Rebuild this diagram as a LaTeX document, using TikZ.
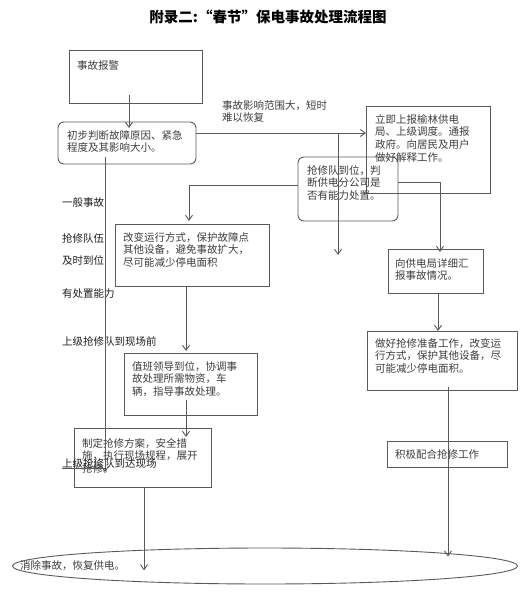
\documentclass[tikz,border=0pt]{standalone}
\usepackage{fontspec}
\newfontfamily\cjk{Noto Sans CJK SC}
\usetikzlibrary{arrows.meta,calc,shapes.geometric}
\definecolor{boxc}{HTML}{5A5A5A}
\definecolor{txtc}{HTML}{3C3C3C}
\definecolor{lblc}{HTML}{1E1E1E}
\begin{document}
\begin{tikzpicture}[x=1pt,y=-1pt,
  box/.style={draw=boxc,line width=0.9pt,anchor=north west,inner sep=0pt,outer sep=0pt},
  rbox/.style={box,rounded corners=6pt},
  txt/.style={anchor=north west,inner sep=0pt,align=left,text=txtc,font=\cjk\fontsize{10.5}{12.7}\selectfont},
  lbl/.style={anchor=west,inner sep=0pt,text=lblc,font=\cjk\fontsize{10.5}{12.7}\selectfont},
  arr/.style={draw=boxc,line width=0.9pt,-{Straight Barb[length=5pt,width=7pt]}},
  ln/.style={draw=boxc,line width=0.9pt}]
\useasboundingbox (0,0) rectangle (530,600);
% title
\node[font=\cjk\bfseries\fontsize{14.5}{16}\selectfont,text=black,inner sep=0pt] (title) at (268,17) {附录二:“春节”保电事故处理流程图};
% boxes
\node[box,minimum width=133pt,minimum height=53pt] (b1) at (69,50) {};
\node[rbox,minimum width=138pt,minimum height=42pt] (b2) at (58,122) {};
\node[box,minimum width=124pt,minimum height=87pt] (b3) at (366,106) {};
\node[rbox,minimum width=100pt,minimum height=64pt] (b4) at (298,157) {};
\node[box,minimum width=154pt,minimum height=62pt] (b5) at (115,224) {};
\node[box,minimum width=95pt,minimum height=44pt] (b6) at (388,249) {};
\node[box,minimum width=133pt,minimum height=62pt] (b7) at (124,353) {};
\node[box,minimum width=137pt,minimum height=59pt] (b8) at (74,428) {};
\node[box,minimum width=150pt,minimum height=59pt] (b9) at (367,331) {};
\node[box,minimum width=120pt,minimum height=26pt] (b10) at (387,441) {};
\node[draw=boxc,line width=0.9pt,ellipse,minimum width=505pt,minimum height=36pt,inner sep=0pt] (el) at (265,566) {};
% box texts
\node[txt] (t1) at (77,60) {事故报警};
\node[txt] (t2) at (67,130) {初步判断故障原因、紧急\\程度及其影响大小。};
\node[txt] (t3) at (375,114) {立即上报榆林供电\\局、上级调度。通报\\政府。向居民及用户\\做好解释工作。};
\node[txt] (t4) at (307,165) {抢修队到位，判\\断供电分公司是\\否有能力处置。};
\node[txt] (t5) at (123,232) {改变运行方式，保护故障点\\其他设备，避免事故扩大，\\尽可能减少停电面积};
\node[txt] (t6) at (395,258) {向供电局详细汇\\报事故情况。};
\node[txt] (t7) at (132,361) {值班领导到位，协调事\\故处理所需物资，车\\辆，指导事故处理。};
\node[txt] (t8) at (82,438) {制定抢修方案，安全措\\施，执行现场规程，展开\\抢修。};
\node[txt] (t9) at (375,338) {做好抢修准备工作，改变运\\行方式，保护其他设备，尽\\可能减少停电面积。};
\node[txt] (t10) at (395,449) {积极配合抢修工作};
\node[txt,anchor=west] (tel) at (20,566) {消除事故，恢复供电。};
\node[txt] (tl) at (222,100) {事故影响范围大，短时\\难以恢复};
% left labels
\node[lbl] (l1) at (62,203) {一般事故};
\node[lbl] (l2) at (62,238) {抢修队伍};
\node[lbl] (l3) at (62,260) {及时到位};
\node[lbl] (l4) at (62,294) {有处置能力};
\node[lbl] (l5) at (62,341) {上级抢修队到现场前};
\node[lbl] (l6) at (62,463) {上级抢修队到达现场};
% helper coordinates
\coordinate (xa) at (129,0);
\coordinate (ya) at (0,133);
\coordinate (j1) at (338,133);
\coordinate (e1) at (338,255);
\coordinate (xb) at (189,0);
\coordinate (xc) at (440,0);
\coordinate (xd) at (105,0);
\coordinate (e2) at (105,472);
\coordinate (xe) at (186,0);
\coordinate (xf) at (144,0);
\coordinate (xg) at (438,0);
\coordinate (xh) at (448,0);
% connectors
\draw[arr] ($(b1.south -| xa)+(0,-8)$) -- ($(b2.north -| xa)+(0,6)$);
\draw[arr] (b2.east |- ya) -- (b3.west |- ya);
\draw[arr] (j1) -- (e1);
\draw[arr] ($(b4.west)+(0,-4)$) -| ($(b5.north -| xb)+(0,-3)$);
\draw[arr] ($(b4.east)+(0,-7)$) -| ($(b6.north -| xc)+(0,3)$);
\draw[arr] ($(b2.south -| xd)+(0,-7)$) -- (e2);
\draw[arr] (b5.south -| xe) -- ($(b7.north -| xe)+(0,-2)$);
\draw[arr] ($(b7.south -| xe)+(0,-15)$) -- ($(b8.north -| xe)+(0,9)$);
\draw[arr] (b8.south -| xf) -- ($(el.south -| xf)+(0,-14)$);
\draw[arr] (b6.south -| xg) -- (b9.north -| xg);
\draw[arr] ($(b9.south -| xh)+(0,-3)$) -- ($(el.north -| xh)+(0,9)$);
\draw[ln] ($(l6.west)+(0,5)$) -- ($(e2)+(0,-4)$);
\end{tikzpicture}
\end{document}
